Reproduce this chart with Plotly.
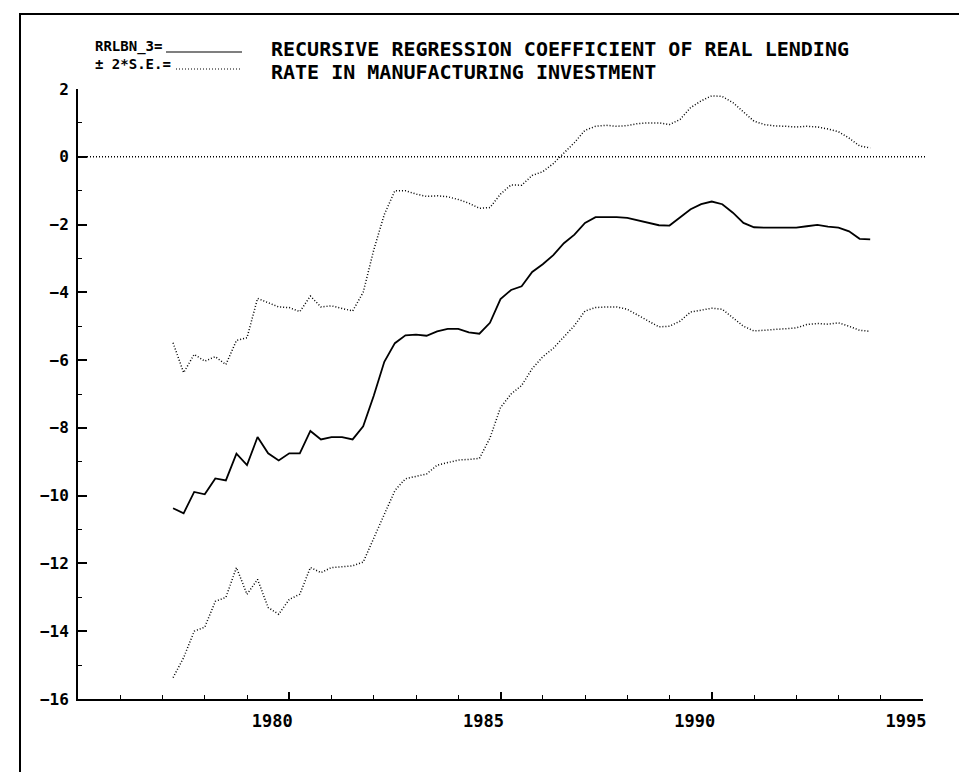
import plotly.graph_objects as go

# quarterly sample, 1977 Q2 .. 1993 Q4
START_YEAR = 1977.25
years = [START_YEAR + 0.25 * i for i in range(67)]

coef = [
    -10.37, -10.52, -9.89, -9.96, -9.49, -9.55, -8.76, -9.10, -8.27, -8.75,
    -8.96, -8.75, -8.75, -8.09, -8.34, -8.27, -8.27, -8.34, -7.95, -7.05,
    -6.05, -5.50, -5.27, -5.25, -5.28, -5.15, -5.08, -5.08, -5.18, -5.22,
    -4.90, -4.20, -3.93, -3.82, -3.40, -3.17, -2.90, -2.55, -2.30, -1.95,
    -1.78, -1.77, -1.78, -1.80, -1.87, -1.94, -2.02, -2.03, -1.80, -1.55,
    -1.40, -1.32, -1.40, -1.65, -1.95, -2.08, -2.09, -2.09, -2.09, -2.09,
    -2.05, -2.01, -2.06, -2.09, -2.20, -2.42, -2.44,
]

upper = [
    -5.49, -6.37, -5.83, -6.03, -5.90, -6.13, -5.42, -5.34, -4.18, -4.31,
    -4.43, -4.45, -4.57, -4.11, -4.43, -4.40, -4.47, -4.55, -4.00, -2.75,
    -1.70, -1.00, -1.00, -1.10, -1.17, -1.15, -1.18, -1.26, -1.37, -1.52,
    -1.50, -1.10, -0.83, -0.84, -0.55, -0.44, -0.20, 0.10, 0.42, 0.78,
    0.90, 0.93, 0.90, 0.92, 0.98, 1.00, 1.00, 0.95, 1.10, 1.45,
    1.65, 1.80, 1.78, 1.60, 1.33, 1.05, 0.95, 0.91, 0.90, 0.88,
    0.90, 0.88, 0.82, 0.74, 0.55, 0.32, 0.26,
]

lower = [
    -15.37, -14.78, -14.00, -13.88, -13.12, -13.00, -12.12, -12.91, -12.47, -13.30,
    -13.50, -13.06, -12.91, -12.12, -12.27, -12.12, -12.10, -12.07, -11.96, -11.25,
    -10.55, -9.85, -9.50, -9.42, -9.36, -9.10, -9.03, -8.95, -8.93, -8.90,
    -8.30, -7.40, -7.00, -6.75, -6.25, -5.90, -5.65, -5.30, -4.98, -4.55,
    -4.45, -4.43, -4.43, -4.50, -4.68, -4.85, -5.02, -5.00, -4.85, -4.58,
    -4.52, -4.47, -4.50, -4.75, -5.00, -5.14, -5.12, -5.09, -5.09, -5.05,
    -4.95, -4.92, -4.94, -4.90, -5.00, -5.12, -5.15,
]

title_lines = [
    "RECURSIVE REGRESSION COEFFICIENT OF REAL LENDING",
    "RATE IN MANUFACTURING INVESTMENT",
]
key_labels = ["RRLBN_3=", "\u00b1 2*S.E.="]

MONO = "DejaVu Sans Mono, Liberation Mono, monospace"
DOTS = "1px,2px"

# plot area in pixels: x 70..915, y 81..691
W, H = 967, 772
L, R, T, B = 70, 52, 81, 81


def px_x(p):
    return (p - L) / (W - L - R)


def px_y(p):
    return (H - B - p) / (H - T - B)


def mono(size):
    return {"family": MONO, "size": size, "color": "black", "weight": "bold"}


fig = go.Figure()

fig.add_trace(go.Scatter(x=years, y=upper, mode="lines",
                         line={"color": "black", "width": 1.5, "dash": DOTS}))
fig.add_trace(go.Scatter(x=years, y=lower, mode="lines",
                         line={"color": "black", "width": 1.5, "dash": DOTS}))
fig.add_trace(go.Scatter(x=years, y=coef, mode="lines",
                         line={"color": "black", "width": 1.8}))

# zero reference line
fig.add_shape(type="line", xref="paper", yref="y", x0=0, x1=1.004, y0=0, y1=0,
              line={"color": "black", "width": 1.5, "dash": DOTS})

# outer frame
fig.add_shape(type="rect", xref="paper", yref="paper",
              x0=px_x(12), x1=px_x(962), y0=px_y(790), y1=px_y(6),
              line={"color": "black", "width": 2})

# legend key
fig.add_annotation(text=key_labels[0], xref="paper", yref="paper",
                   x=px_x(86), y=px_y(29), xanchor="left", yanchor="top",
                   showarrow=False, borderpad=0, font=mono(14))
fig.add_annotation(text=key_labels[1], xref="paper", yref="paper",
                   x=px_x(86), y=px_y(47), xanchor="left", yanchor="top",
                   showarrow=False, borderpad=0, font=mono(14))
fig.add_shape(type="line", xref="paper", yref="paper",
              x0=px_x(158), x1=px_x(234), y0=px_y(44), y1=px_y(44),
              line={"color": "black", "width": 1.2})
fig.add_shape(type="line", xref="paper", yref="paper",
              x0=px_x(168), x1=px_x(232), y0=px_y(61), y1=px_y(61),
              line={"color": "black", "width": 1.2, "dash": DOTS})

# title, two lines set close together
fig.add_annotation(text=title_lines[0], xref="paper", yref="paper",
                   x=px_x(262), y=px_y(28), xanchor="left", yanchor="top",
                   showarrow=False, borderpad=0, font=mono(20))
fig.add_annotation(text=title_lines[1], xref="paper", yref="paper",
                   x=px_x(262), y=px_y(51), xanchor="left", yanchor="top",
                   showarrow=False, borderpad=0, font=mono(20))

fig.update_layout(
    width=W,
    height=H,
    margin={"l": L, "r": R, "t": T, "b": B},
    paper_bgcolor="white",
    plot_bgcolor="white",
    showlegend=False,
)

fig.update_xaxes(
    range=[1975, 1995],
    tickvals=[1980, 1985, 1990, 1995],
    showline=True,
    linecolor="black",
    linewidth=2,
    ticks="inside",
    ticklen=7,
    tickwidth=1.5,
    tickcolor="black",
    minor={"dtick": 1, "ticks": "inside", "ticklen": 4, "tickwidth": 1.2,
           "tickcolor": "black", "showgrid": False},
    showgrid=False,
    zeroline=False,
    ticklabelshift=-17,
    ticklabelstandoff=6,
    tickfont=mono(17),
)
fig.update_yaxes(
    range=[-16, 2],
    dtick=2,
    showline=True,
    linecolor="black",
    linewidth=2,
    ticks="inside",
    ticklen=9,
    tickwidth=1.5,
    tickcolor="black",
    minor={"dtick": 1, "ticks": "inside", "ticklen": 4, "tickwidth": 1.2,
           "tickcolor": "black", "showgrid": False},
    showgrid=False,
    zeroline=False,
    ticklabelstandoff=4,
    tickfont=mono(16),
)

fig.write_html("out.html")
